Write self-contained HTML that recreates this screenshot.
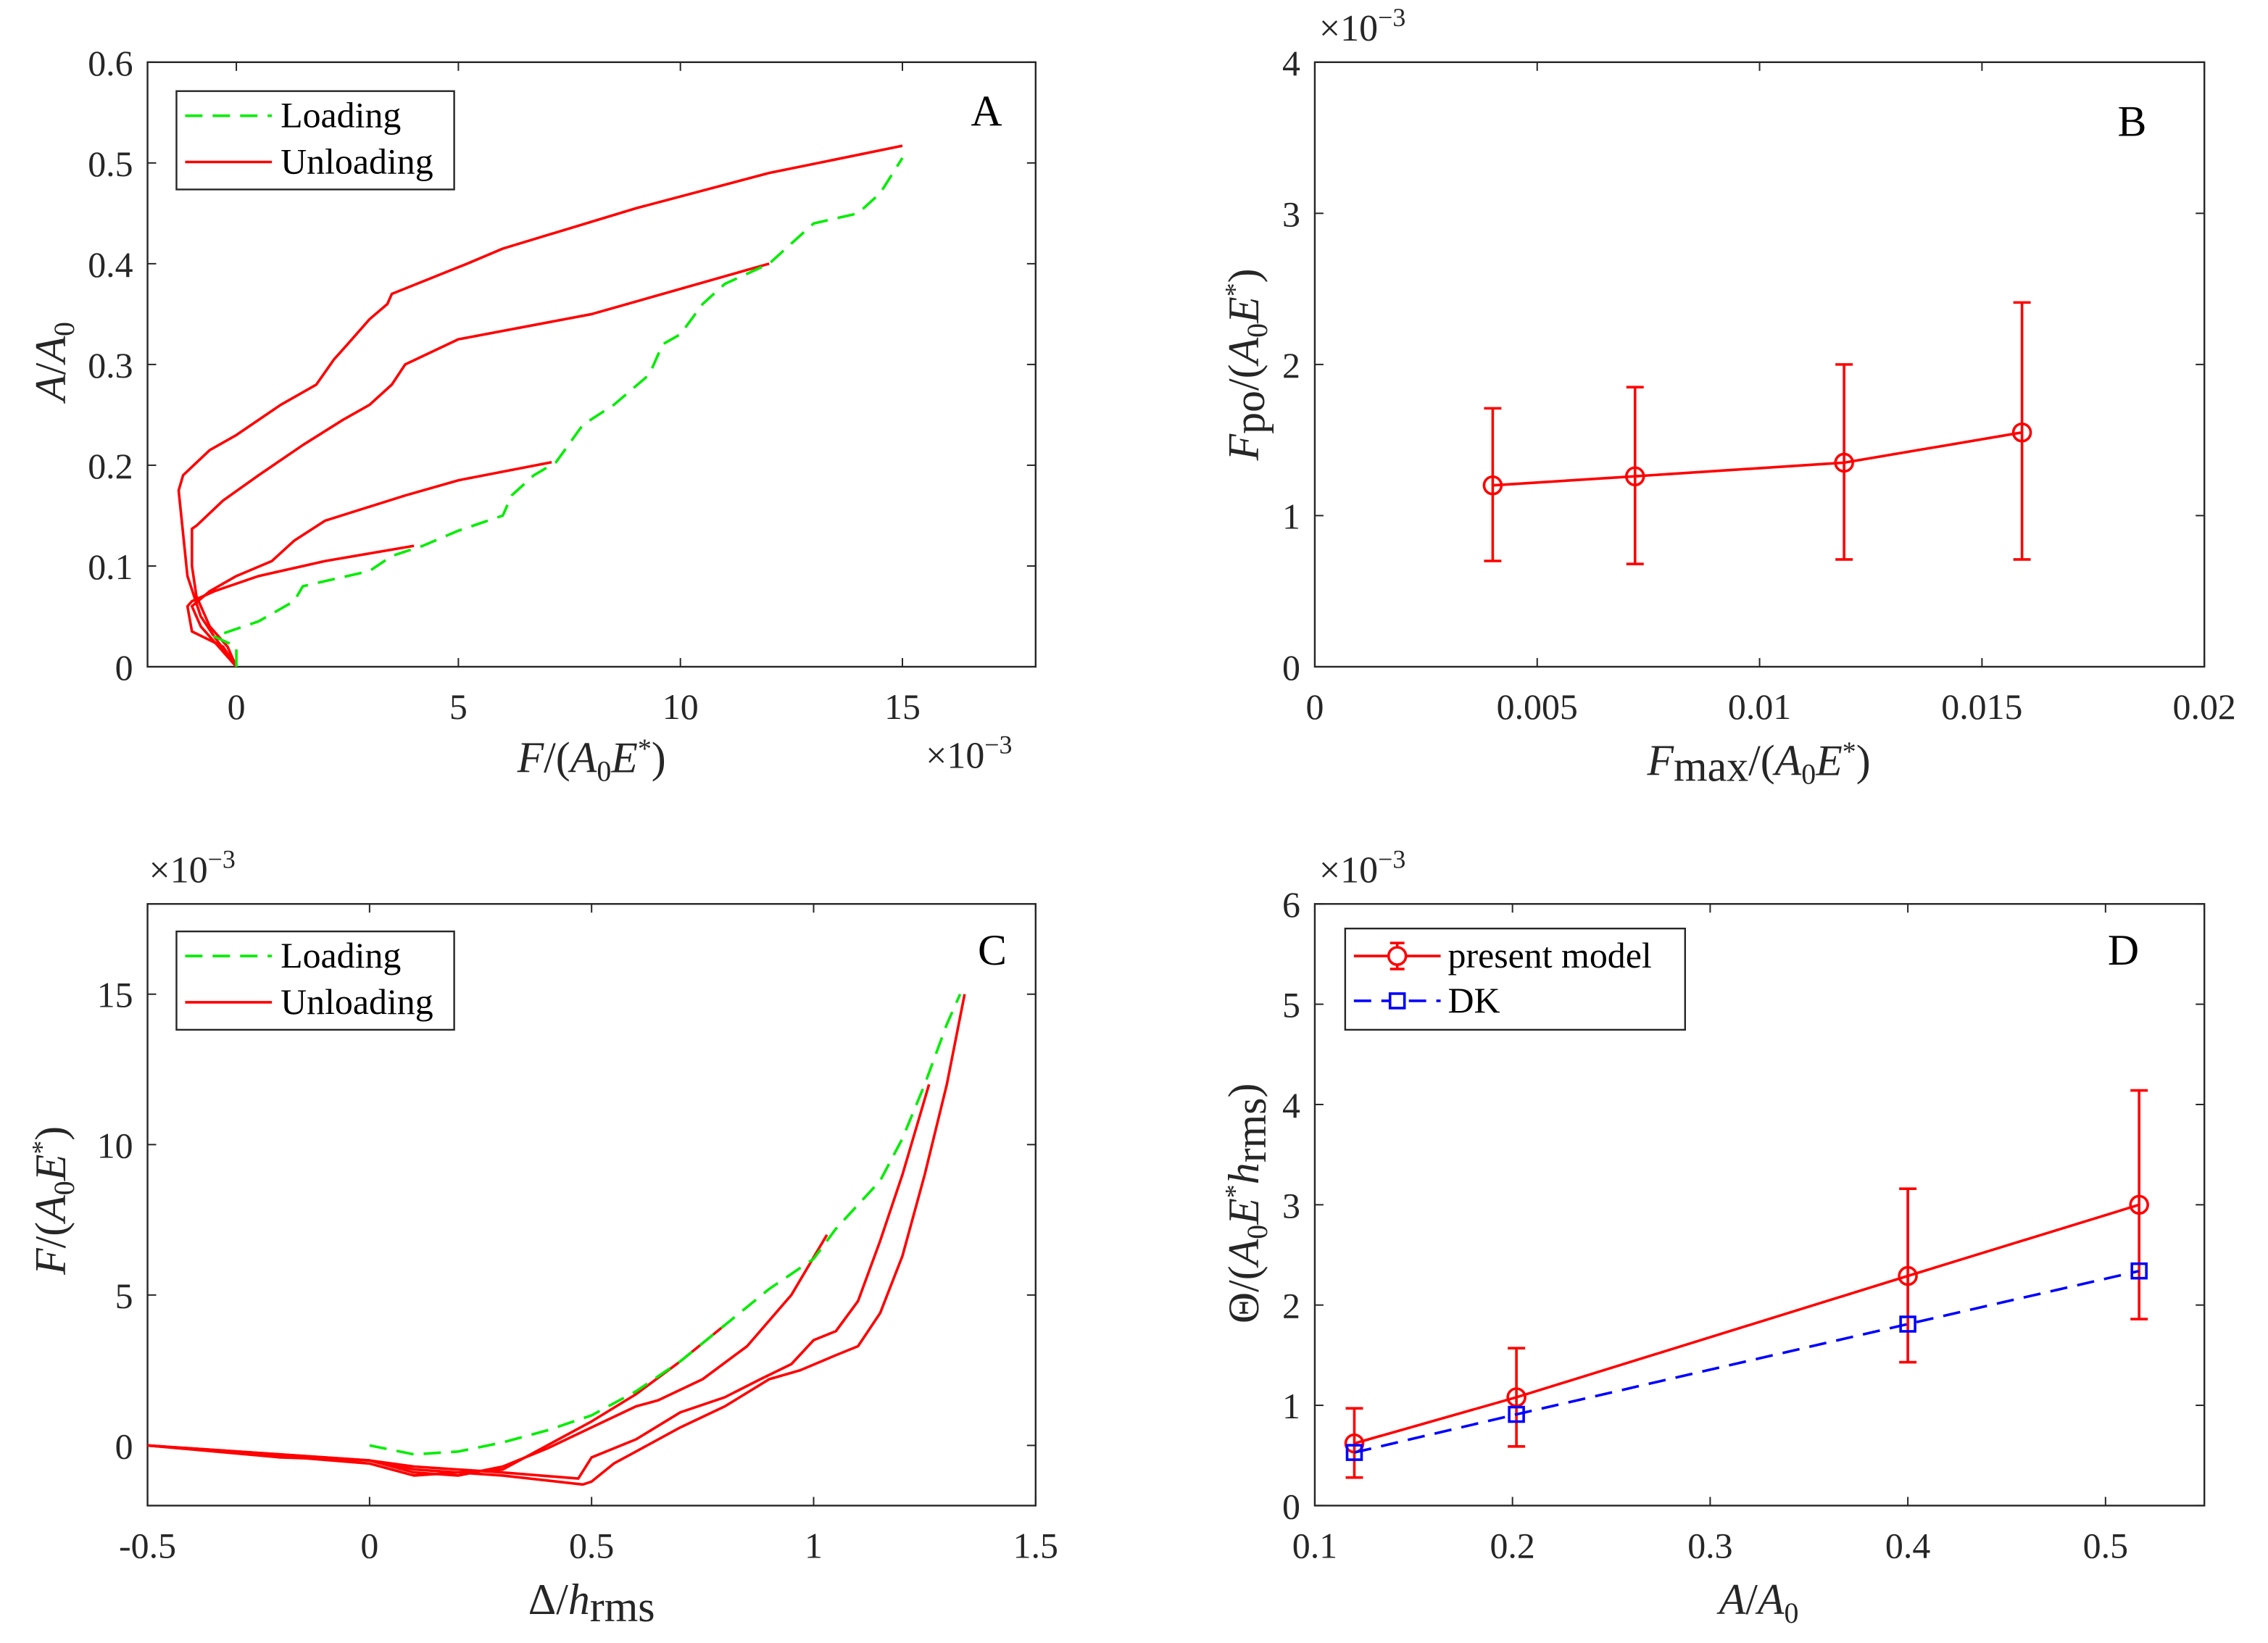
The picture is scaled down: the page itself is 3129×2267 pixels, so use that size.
<!DOCTYPE html>
<html><head><meta charset="utf-8"><style>
html,body{margin:0;padding:0;background:#fff;}
svg{display:block;font-family:"Liberation Serif",serif;}
</style></head><body>
<svg id="fig" width="3129" height="2267" viewBox="0 0 1568 1136" preserveAspectRatio="none" xmlns="http://www.w3.org/2000/svg">
<rect width="1568" height="1136" fill="#fff"/>
<g id="layer"></g>
</svg>
<script>
// ---------- Panel A data (x in 1e-3) ----------
const aLoadX=[0,0,-0.5,0.5,1.3,1.5,3,3.5,4.2,5,6,6.2,6.7,7.2,7.8,8.5,9.3,9.6,10,10.5,11,12,12.5,13,14,14.5,15];
const aLoadY=[0,0.02,0.03,0.045,0.065,0.08,0.095,0.11,0.12,0.135,0.15,0.17,0.19,0.203,0.24,0.26,0.29,0.32,0.33,0.36,0.38,0.4,0.42,0.44,0.45,0.47,0.505];
const aU1X=[15,12,9,6,5.2,3.5,3.4,3.0,2.5,2.2,1.8,1.0,0,-0.6,-1.2,-1.3,-1.1,-0.8,-0.5,0];
const aU1Y=[0.517,0.49,0.455,0.415,0.4,0.37,0.36,0.345,0.32,0.305,0.28,0.26,0.23,0.215,0.19,0.175,0.09,0.05,0.03,0];
const aU2X=[12,8,5,3.8,3.5,3.0,2.4,1.5,0.5,-0.3,-0.9,-1.0,-1.0,-0.9,-0.6,-0.2,0];
const aU2Y=[0.4,0.35,0.325,0.3,0.28,0.26,0.245,0.22,0.19,0.165,0.14,0.137,0.1,0.07,0.04,0.02,0];
const aU3X=[7.1,5,3.8,2,1.3,0.8,0,-0.6,-1.0,-0.8,0];
const aU3Y=[0.203,0.185,0.17,0.145,0.125,0.105,0.09,0.075,0.06,0.04,0];
const aU4X=[4,2,0.5,-0.5,-1.0,-1.1,-1.0,-0.3,0];
const aU4Y=[0.12,0.105,0.09,0.075,0.065,0.06,0.035,0.02,0];
// ---------- Panel B data (y in 1e-3) ----------
const bX=[0.004,0.0072,0.0119,0.0159];
const bY=[1.2,1.26,1.35,1.55];
const bLo=[0.7,0.68,0.71,0.71];
const bHi=[1.71,1.85,2.0,2.41];
// ---------- Panel C data (y in 1e-3) ----------
const cLoadX=[0,0.1,0.2,0.3,0.4,0.5,0.6,0.7,0.8,0.9,1.0,1.05,1.15,1.2,1.25,1.3,1.33];
const cLoadY=[0,-0.3,-0.2,0.1,0.5,1.0,1.8,2.8,4,5.2,6.2,7.2,8.8,10.2,12,14,15];
const cU1X=[1.34,1.3,1.25,1.2,1.15,1.1,1.05,0.97,0.9,0.8,0.7,0.6,0.55,0.5,0.48,0.3,0.1,0,-0.2,-0.5];
const cU1Y=[15,12,9,6.3,4.4,3.3,3.0,2.5,2.2,1.3,0.6,-0.2,-0.6,-1.2,-1.3,-1.0,-0.8,-0.5,-0.4,0];
const cU2X=[1.26,1.2,1.15,1.1,1.05,1.0,0.95,0.88,0.8,0.7,0.6,0.5,0.47,0.3,0.1,0,-0.5];
const cU2Y=[12,9,6.8,4.8,3.8,3.5,2.7,2.2,1.6,1.1,0.2,-0.4,-1.1,-0.9,-0.7,-0.5,0];
const cU3X=[1.03,0.95,0.85,0.75,0.65,0.6,0.5,0.4,0.3,0.2,0.1,0,-0.2,-0.5];
const cU3Y=[7,5,3.3,2.2,1.5,1.3,0.6,-0.1,-0.7,-1.0,-0.9,-0.5,-0.3,0];
const cU4X=[0.8,0.7,0.6,0.5,0.4,0.3,0.1,0,-0.5];
const cU4Y=[4,2.8,1.7,0.8,0.0,-0.8,-1.0,-0.6,0];
// ---------- Panel D data (y in 1e-3) ----------
const dX=[0.12,0.202,0.4,0.517];
const dY=[0.62,1.08,2.29,3.0];
const dLo=[0.28,0.59,1.43,1.86];
const dHi=[0.97,1.57,3.16,4.14];
const dDK=[0.53,0.91,1.81,2.34];
// ---------- tick labels ----------
const aXTicks=[0,5,10,15]; const aYTicks=[0,0.1,0.2,0.3,0.4,0.5,0.6];
const bXTicks=[0,0.005,0.01,0.015,0.02]; const bYTicks=[0,1,2,3,4];
const cXTicks=[-0.5,0,0.5,1,1.5]; const cYTicks=[0,5,10,15];
const dXTicks=[0.1,0.2,0.3,0.4,0.5]; const dYTicks=[0,1,2,3,4,5,6];

const NS="http://www.w3.org/2000/svg";
const layer=document.getElementById('layer');
function mk(tag,attrs,parent,txt){const e=document.createElementNS(NS,tag);for(const k in attrs)e.setAttribute(k,attrs[k]);if(txt!==undefined)e.textContent=txt;(parent||layer).appendChild(e);return e;}
function axis(x0,x1,y0,y1,xmin,xmax,ymin,ymax){return{sx:v=>x0+(v-xmin)/(xmax-xmin)*(x1-x0),sy:v=>y1-(v-ymin)/(ymax-ymin)*(y1-y0),x0,x1,y0,y1};}
function frame(ax,xt,yt,name){
  const g=mk('g',{});
  
  
  mk('rect',{x:ax.x0,y:ax.y0,width:ax.x1-ax.x0,height:ax.y1-ax.y0,fill:'none',stroke:'#262626','stroke-width':1.2},g);
  xt.forEach(v=>{const x=ax.sx(v);mk('line',{x1:x,x2:x,y1:ax.y1,y2:ax.y1-6,stroke:'#262626','stroke-width':1},g);mk('line',{x1:x,x2:x,y1:ax.y0,y2:ax.y0+6,stroke:'#262626','stroke-width':1},g);
    const t=mk('text',{x:x,y:ax.y1+36,'font-size':25,'text-anchor':'middle',fill:'#262626'},g,String(v));
    
    });
  yt.forEach(v=>{const y=ax.sy(v);mk('line',{x1:ax.x0,x2:ax.x0+6,y1:y,y2:y,stroke:'#262626','stroke-width':1},g);mk('line',{x1:ax.x1,x2:ax.x1-6,y1:y,y2:y,stroke:'#262626','stroke-width':1},g);
    const t=mk('text',{x:ax.x0-10,y:y+9,'font-size':25,'text-anchor':'end',fill:'#262626'},g,String(v));
    
    });
}
function line(ax,xs,ys,color,dash,name){
  const d=xs.map((x,i)=>(i?'L':'M')+ax.sx(x).toFixed(1)+' '+ax.sy(ys[i]).toFixed(1)).join(' ');
  const p=mk('path',{d:d,fill:'none',stroke:color,'stroke-width':1.8,'stroke-dasharray':dash||'none','stroke-linejoin':'round'});
  
  
}
function errbars(ax,xs,lo,hi,name){
  xs.forEach((x,i)=>{const X=ax.sx(x);const g=mk('g',{stroke:'#ff0000','stroke-width':1.8});
    
    
    mk('line',{x1:X,x2:X,y1:ax.sy(lo[i]),y2:ax.sy(hi[i])},g);
    mk('line',{x1:X-6,x2:X+6,y1:ax.sy(lo[i]),y2:ax.sy(lo[i])},g);
    mk('line',{x1:X-6,x2:X+6,y1:ax.sy(hi[i]),y2:ax.sy(hi[i])},g);});
}
function circles(ax,xs,ys,name){xs.forEach((x,i)=>{const c=mk('circle',{cx:ax.sx(x),cy:ax.sy(ys[i]),r:6,fill:'none',stroke:'#ff0000','stroke-width':1.8});
  
  });}
function squares(ax,xs,ys,name){xs.forEach((x,i)=>{const s=mk('rect',{x:ax.sx(x)-5,y:ax.sy(ys[i])-5,width:10,height:10,fill:'none',stroke:'#0000ff','stroke-width':1.8});
  
  });}
function label(x,y,html,name,rot,anchor){const t=mk('text',{x:x,y:y,'font-size':30,'text-anchor':anchor||'middle',fill:'#262626',transform:rot?`rotate(-90 ${x} ${y})`:''});t.innerHTML=html;
  
  return t;}

const A=axis(102,716,43,461,-2,18,0,0.6);
const B=axis(909,1524,43,461,0,0.02,0,4);
const C=axis(102,716,625,1041,-0.5,1.5,-2,18);
const D=axis(909,1524,625,1041,0.1,0.55,0,6);
frame(A,aXTicks,aYTicks,'panel-a');frame(B,bXTicks,bYTicks,'panel-b');frame(C,cXTicks,cYTicks,'panel-c');frame(D,dXTicks,dYTicks,'panel-d');

const G='#00ee00',R='#ff0000';
line(A,aU1X,aU1Y,R,null,'unloading-curve-1');line(A,aU2X,aU2Y,R,null,'unloading-curve-2');line(A,aU3X,aU3Y,R,null,'unloading-curve-3');line(A,aU4X,aU4Y,R,null,'unloading-curve-4');
line(A,aLoadX,aLoadY,G,'12 7','loading-curve');
line(C,cU1X,cU1Y,R,null,'unloading-curve-1');line(C,cU2X,cU2Y,R,null,'unloading-curve-2');line(C,cU3X,cU3Y,R,null,'unloading-curve-3');line(C,cU4X,cU4Y,R,null,'unloading-curve-4');
line(C,cLoadX,cLoadY,G,'12 7','loading-curve');
errbars(B,bX,bLo,bHi,'error-bar');line(B,bX,bY,R,null,'pull-off-line');circles(B,bX,bY,'pull-off-marker');
errbars(D,dX,dLo,dHi,'error-bar');line(D,dX,dY,R,null,'present-model-line');circles(D,dX,dY,'present-model-marker');
line(D,dX,dDK,'#0000ff','12 7','dk-line');squares(D,dX,dDK,'dk-marker');

// legends
function legendBox(x,y,w,h,name){const r=mk('rect',{x:x,y:y,width:w,height:h,fill:'#fff',stroke:'#262626','stroke-width':1.2});
  
  }
[[122,63],[122,644]].forEach(([lx,ly],k)=>{
  legendBox(lx,ly,192,68,k?'legend-c':'legend-a');
  mk('line',{x1:lx+6,x2:lx+66,y1:ly+17,y2:ly+17,stroke:G,'stroke-width':1.8,'stroke-dasharray':'12 7'});
  mk('text',{x:lx+72,y:ly+25,'font-size':25,fill:'#000'},null,'Loading');
  mk('line',{x1:lx+6,x2:lx+66,y1:ly+49,y2:ly+49,stroke:R,'stroke-width':1.8});
  mk('text',{x:lx+72,y:ly+57,'font-size':25,fill:'#000'},null,'Unloading');
});
legendBox(930,642,235,70,'legend-d');
mk('line',{x1:936,x2:996,y1:661,y2:661,stroke:R,'stroke-width':1.8});
mk('line',{x1:966,x2:966,y1:652,y2:670,stroke:R,'stroke-width':1.8});
mk('line',{x1:961,x2:971,y1:652,y2:652,stroke:R,'stroke-width':1.8});
mk('line',{x1:961,x2:971,y1:670,y2:670,stroke:R,'stroke-width':1.8});
mk('circle',{cx:966,cy:661,r:6,fill:'#fff',stroke:R,'stroke-width':1.8});
mk('text',{x:1001,y:669,'font-size':25,fill:'#000'},null,'present model');
mk('line',{x1:936,x2:996,y1:692,y2:692,stroke:'#0000ff','stroke-width':1.8,'stroke-dasharray':'12 7'});
mk('rect',{x:961,y:687,width:10,height:10,fill:'#fff',stroke:'#0000ff','stroke-width':1.8});
mk('text',{x:1001,y:700,'font-size':25,fill:'#000'},null,'DK');

// panel letters
[['A',682,87],['B',1474,94],['C',686,667],['D',1468,667]].forEach(([s,x,y])=>{const t=mk('text',{x:x,y:y,'font-size':30,'text-anchor':'middle',fill:'#000'},null,s);
  
  });
// exponent labels
[[640,531],[912,28],[103,610],[912,610]].forEach(([x,y])=>{const t=mk('text',{x:x,y:y,'font-size':26,fill:'#262626'},null,'');t.innerHTML='×10<tspan dy="-10" font-size="18">−3</tspan>';
  
  });
// axis labels
label(409,534,'<tspan font-style="italic">F</tspan>/(<tspan font-style="italic">A</tspan><tspan font-size="20" dy="6">0</tspan><tspan dy="-6" font-style="italic">E</tspan><tspan font-size="19" dy="-10">*</tspan><tspan dy="10">)</tspan>','x-axis-title-a');
label(45,250,'<tspan font-style="italic">A</tspan>/<tspan font-style="italic">A</tspan><tspan font-size="20" dy="6">0</tspan>','y-axis-title-a',true);
label(1216,536,'<tspan font-style="italic">F</tspan><tspan dy="4">max</tspan><tspan dy="-4">/(</tspan><tspan font-style="italic">A</tspan><tspan font-size="20" dy="6">0</tspan><tspan dy="-6" font-style="italic">E</tspan><tspan font-size="19" dy="-10">*</tspan><tspan dy="10">)</tspan>','x-axis-title-b');
label(870,252,'<tspan font-style="italic">F</tspan><tspan dy="4">po</tspan><tspan dy="-4">/(</tspan><tspan font-style="italic">A</tspan><tspan font-size="20" dy="6">0</tspan><tspan dy="-6" font-style="italic">E</tspan><tspan font-size="19" dy="-10">*</tspan><tspan dy="10">)</tspan>','y-axis-title-b',true);
label(409,1116,'Δ/<tspan font-style="italic">h</tspan><tspan dy="5">rms</tspan>','x-axis-title-c');
label(45,830,'<tspan font-style="italic">F</tspan>/(<tspan font-style="italic">A</tspan><tspan font-size="20" dy="6">0</tspan><tspan dy="-6" font-style="italic">E</tspan><tspan font-size="19" dy="-10">*</tspan><tspan dy="10">)</tspan>','y-axis-title-c',true);
label(1216,1116,'<tspan font-style="italic">A</tspan>/<tspan font-style="italic">A</tspan><tspan font-size="20" dy="6">0</tspan>','x-axis-title-d');
label(870,832,'Θ/(<tspan font-style="italic">A</tspan><tspan font-size="20" dy="6">0</tspan><tspan dy="-6" font-style="italic">E</tspan><tspan font-size="19" dy="-10">*</tspan><tspan dy="10" font-style="italic">h</tspan><tspan dy="5">rms</tspan><tspan dy="-5">)</tspan>','y-axis-title-d',true);
</script>
</body></html>
